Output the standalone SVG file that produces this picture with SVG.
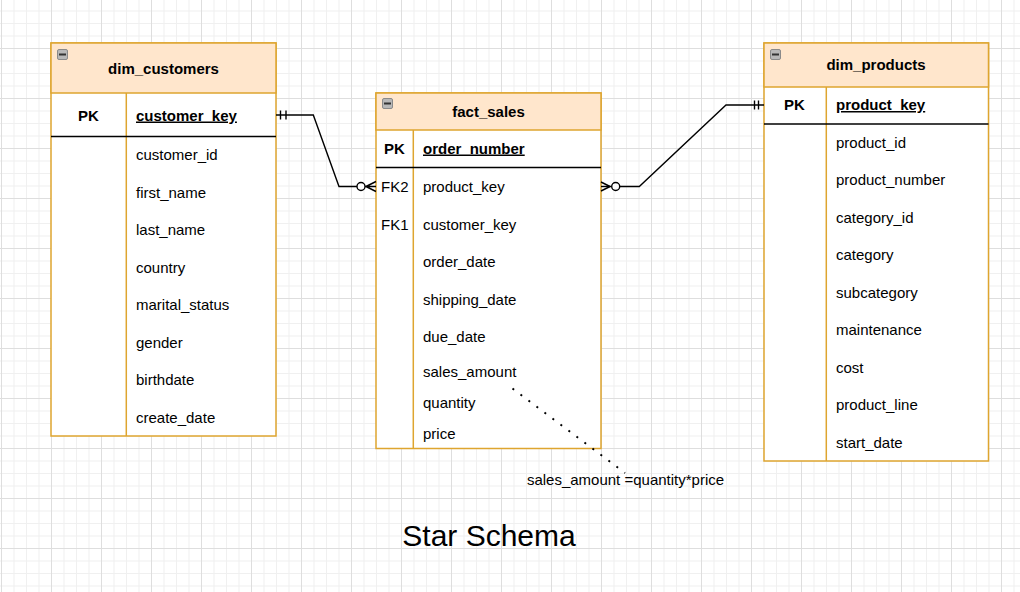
<svg xmlns="http://www.w3.org/2000/svg" width="1020" height="592" viewBox="0 0 1020 592">
<defs>
<pattern id="grid" x="1" y="-2" width="50" height="50" patternUnits="userSpaceOnUse">
<rect width="50" height="50" fill="#ffffff"/>
<path d="M13,0V50M25.5,0V50M38,0V50M0,13H50M0,25.5H50M0,38H50" stroke="#f0f0f0" stroke-width="1"/>
<path d="M0.5,0V50M0,0.5H50" stroke="#dedede" stroke-width="1"/>
</pattern>
<g id="collapse">
<rect x="0.5" y="0.5" width="10" height="10" rx="1.5" fill="#b8b8b8" stroke="#8a8a8a" stroke-width="1"/>
<rect x="2" y="4.5" width="7" height="2" fill="#333"/>
</g>
</defs>
<style>
text{font-family:"Liberation Sans",Arial,sans-serif;font-size:15px;fill:#000}
.b{font-weight:bold}
.u{text-decoration:underline}
.m{text-anchor:middle}
.box{fill:#ffffff;stroke:#dea52f;stroke-width:1.5}
.hdr{fill:#ffe6cc;stroke:#dea52f;stroke-width:1.5}
.col{stroke:#dea52f;stroke-width:1.5}
.div{stroke:#000;stroke-width:1.5}
.ln{fill:none;stroke:#000;stroke-width:1.4}
</style>
<rect width="1020" height="592" fill="url(#grid)"/>

<g id="dim_customers">
<rect class="box" x="51" y="43" width="225" height="393"/>
<rect class="hdr" x="51" y="43" width="225" height="50"/>
<use href="#collapse" x="57" y="49"/>
<text class="b m" x="163.5" y="73.5">dim_customers</text>
<line class="col" x1="126.3" y1="93" x2="126.3" y2="436"/>
<line class="div" x1="51" y1="136.5" x2="276" y2="136.5"/>
<text class="b m" x="88.5" y="120.5">PK</text>
<text class="b u" x="136" y="120.5">customer_key</text>
<text x="136" y="160">customer_id</text>
<text x="136" y="197.5">first_name</text>
<text x="136" y="235">last_name</text>
<text x="136" y="272.5">country</text>
<text x="136" y="310">marital_status</text>
<text x="136" y="347.5">gender</text>
<text x="136" y="385">birthdate</text>
<text x="136" y="422.5">create_date</text>
</g>

<g id="fact_sales">
<rect class="box" x="376" y="93" width="225" height="355.5"/>
<rect class="hdr" x="376" y="93" width="225" height="37"/>
<use href="#collapse" x="382" y="98"/>
<text class="b m" x="488.5" y="117">fact_sales</text>
<line class="col" x1="413.3" y1="130" x2="413.3" y2="448.5"/>
<line class="div" x1="376" y1="167.5" x2="601" y2="167.5"/>
<text class="b m" x="394.5" y="153.5">PK</text>
<text class="b u" x="423" y="153.5">order_number</text>
<text x="381" y="192.3">FK2</text>
<text x="423" y="192.3">product_key</text>
<text x="381" y="229.8">FK1</text>
<text x="423" y="229.8">customer_key</text>
<text x="423" y="267.3">order_date</text>
<text x="423" y="304.8">shipping_date</text>
<text x="423" y="342.3">due_date</text>
<text x="423" y="377">sales_amount</text>
<text x="423" y="408">quantity</text>
<text x="423" y="439">price</text>
</g>

<g id="dim_products">
<rect class="box" x="764" y="43" width="224.5" height="418"/>
<rect class="hdr" x="764" y="43" width="224.5" height="44"/>
<use href="#collapse" x="770" y="49"/>
<text class="b m" x="876" y="70">dim_products</text>
<line class="col" x1="826.3" y1="87" x2="826.3" y2="461"/>
<line class="div" x1="764" y1="124" x2="988.5" y2="124"/>
<text class="b m" x="794.5" y="110">PK</text>
<text class="b u" x="836" y="110">product_key</text>
<text x="836" y="147.7">product_id</text>
<text x="836" y="185.2">product_number</text>
<text x="836" y="222.7">category_id</text>
<text x="836" y="260.2">category</text>
<text x="836" y="297.7">subcategory</text>
<text x="836" y="335.2">maintenance</text>
<text x="836" y="372.7">cost</text>
<text x="836" y="410.2">product_line</text>
<text x="836" y="447.7">start_date</text>
</g>

<g id="connectors">
<path class="ln" d="M276,115H313.3L339,186.5H357"/>
<path class="ln" d="M280.5,110.5V119.5M286,110.5V119.5"/>
<circle cx="361" cy="186.5" r="4" fill="#fff" stroke="#000" stroke-width="1.4"/>
<path class="ln" d="M365,186.5H376M366,186.5L376,181.5M366,186.5L376,191.5"/>

<path class="ln" d="M601,186.5H611.5"/>
<path class="ln" d="M610,186.5L601,182M610,186.5L601,191"/>
<circle cx="615.7" cy="186.5" r="4" fill="#fff" stroke="#000" stroke-width="1.4"/>
<path class="ln" d="M619.7,186.5H639.3L726,105H764"/>
<path class="ln" d="M754.5,100.5V109.5M758.5,100.5V109.5"/>

<path d="M512.5,388.5L625,473" fill="none" stroke="#000" stroke-width="2" stroke-dasharray="2 8"/>
</g>

<text class="m" x="625.5" y="485">sales_amount =quantity*price</text>
<text class="m" x="489" y="545.5" style="font-size:30px">Star Schema</text>
</svg>
